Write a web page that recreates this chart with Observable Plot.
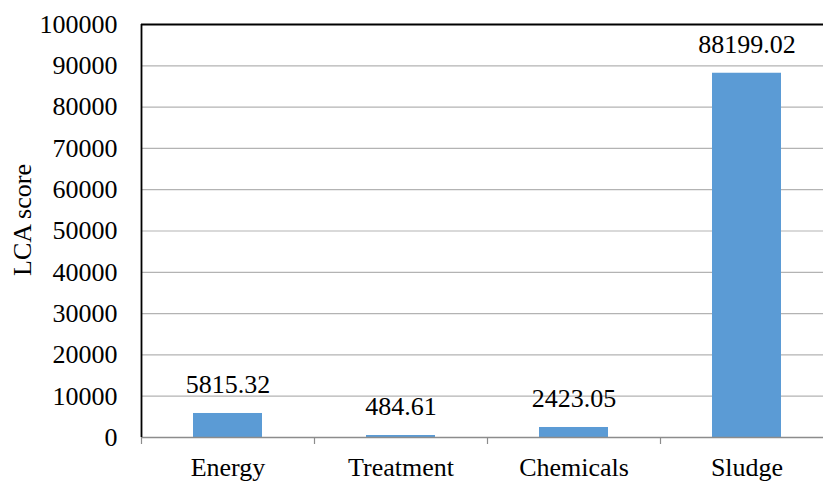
<!DOCTYPE html>
<html>
<head>
<meta charset="utf-8">
<script src="https://cdn.jsdelivr.net/npm/d3@7"></script>
<script src="https://cdn.jsdelivr.net/npm/@observablehq/plot@0.6"></script>
<style>
  html, body { margin: 0; padding: 0; background: #fff; }
  svg { display: block; }
  #chart svg, #chart svg text { font-family: "Liberation Serif", "Times New Roman", serif !important; }
</style>
</head>
<body>
<div id="chart"></div>
<script>
const categories = ["Energy", "Treatment", "Chemicals", "Sludge"];
const scores = [5815.32, 484.61, 2423.05, 88199.02];
const yTicks = [0, 10000, 20000, 30000, 40000, 50000, 60000, 70000, 80000, 90000, 100000];
const yLabel = "LCA score";

const data = categories.map((c, i) => ({category: c, value: scores[i]}));

const W = 823, H = 482;
const xRange = [141, 833];
const step = (xRange[1] - xRange[0]) / categories.length;

const chart = Plot.plot({
  width: W,
  height: H,
  marginLeft: 141,
  marginRight: 0,
  marginTop: 24,
  marginBottom: 45,
  style: {fontSize: "26px", color: "#000", background: "#fff", overflow: "visible"},
  x: {domain: categories, range: xRange, paddingInner: 0.6, paddingOuter: 0.3, axis: null},
  y: {domain: [0, 100000], axis: null},
  marks: [
    Plot.gridY(yTicks.filter(t => t < 100000), {stroke: "#b3b3b3", strokeOpacity: 1, strokeWidth: 1.2}),
    Plot.ruleY([100000], {stroke: "#000", strokeWidth: 1.8}),
    Plot.barY(data, {x: "category", y: "value", fill: "#5b9bd5"}),
    Plot.ruleY([0], {stroke: "#8c8c8c", strokeWidth: 1.5}),
    // boundary tick marks below the category axis
    Plot.ruleX(categories, {x: d => d, dx: -step / 2, y1: 0, y2: 0, insetBottom: -7, stroke: "#8c8c8c", strokeWidth: 1.2}),
    Plot.ruleX([categories[categories.length - 1]], {x: d => d, dx: step / 2, y1: 0, y2: 0, insetBottom: -7, stroke: "#8c8c8c", strokeWidth: 1.2}),
    // left axis line
    Plot.ruleX([categories[0]], {x: d => d, dx: -step / 2, y1: 0, y2: 100000, stroke: "#000", strokeWidth: 1.8}),
    Plot.axisY(yTicks, {tickSize: 0, tickPadding: 24, tickFormat: d => String(d), fontSize: 26, label: null}),
    Plot.axisX({tickSize: 0, tickPadding: 20, fontSize: 26, label: null}),
    Plot.text(data, {x: "category", y: "value", text: d => d.value.toFixed(2), dy: -20, lineAnchor: "bottom", fontSize: 26, fill: "#000"}),
    Plot.text([yLabel], {frameAnchor: "left", rotate: -90, dx: -111, dy: -11, lineAnchor: "bottom", textAnchor: "middle", fontSize: 26, fill: "#000"})
  ]
});
document.getElementById("chart").appendChild(chart);
</script>
</body>
</html>
